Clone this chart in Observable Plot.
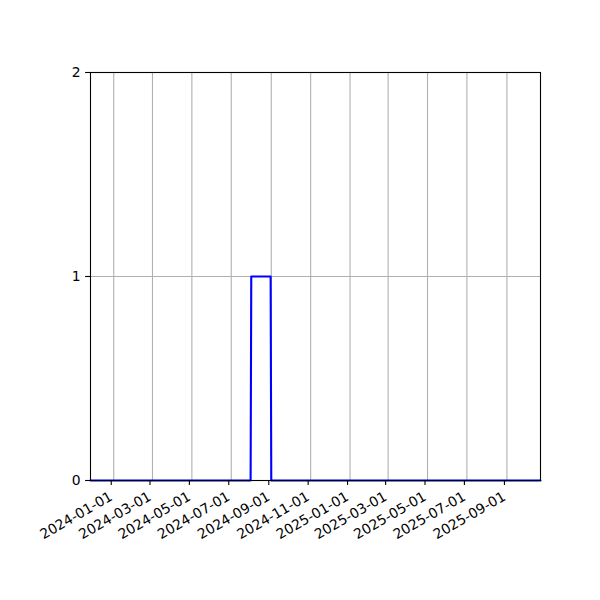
<!DOCTYPE html>
<html><head><meta charset="utf-8">
<script src="https://cdn.jsdelivr.net/npm/d3@7"></script>
<script src="https://cdn.jsdelivr.net/npm/@observablehq/plot@0.6"></script>
<style>body{margin:0;background:#fff}</style>
</head><body><div id="chart"></div>
<script>
const dates = ["2023-11-26","2024-07-31","2024-08-01","2024-08-31","2024-09-01","2025-10-23"];
const values = [0, 0, 1, 1, 0, 0];
const xTicks = ["2024-01-01","2024-03-01","2024-05-01","2024-07-01","2024-09-01","2024-11-01","2025-01-01","2025-03-01","2025-05-01","2025-07-01","2025-09-01"];
const yTicks = [0, 1, 2];
const xDomain = ["2023-11-26", "2025-10-23"];

const data = dates.map((d, i) => ({date: new Date(d), value: values[i]}));
const xt = xTicks.map(d => new Date(d));
const fmt = d3.utcFormat("%Y-%m-%d");

const chart = Plot.plot({
  width: 600, height: 600,
  marginLeft: 90, marginRight: 60, marginTop: 72, marginBottom: 120,
  style: {fontFamily: "DejaVu Sans", fontSize: "13.9px", background: "#fff", color: "#000"},
  x: {type: "utc", domain: xDomain.map(d => new Date(d))},
  y: {domain: [0, 2]},
  marks: [
    Plot.gridX(xt, {stroke: "#b0b0b0", strokeOpacity: 1, strokeWidth: 1.1}),
    Plot.gridY(yTicks, {stroke: "#b0b0b0", strokeOpacity: 1, strokeWidth: 1.1}),
    Plot.line(data, {x: "date", y: "value", stroke: "#0000ff", strokeWidth: 2.1}),
    Plot.frame({stroke: "#000", strokeWidth: 1.1}),
    Plot.axisX(xt, {tickFormat: fmt, tickRotate: -30, tickSize: 4.9, tickPadding: 10, dx: -2.5, label: null, fontSize: 13.9, strokeWidth: 1.1}),
    Plot.axisY(yTicks, {tickFormat: d3.format("d"), tickSize: 4.9, tickPadding: 4.9, label: null, fontSize: 13.9, strokeWidth: 1.1})
  ]
});
document.getElementById("chart").appendChild(chart);
</script></body></html>
